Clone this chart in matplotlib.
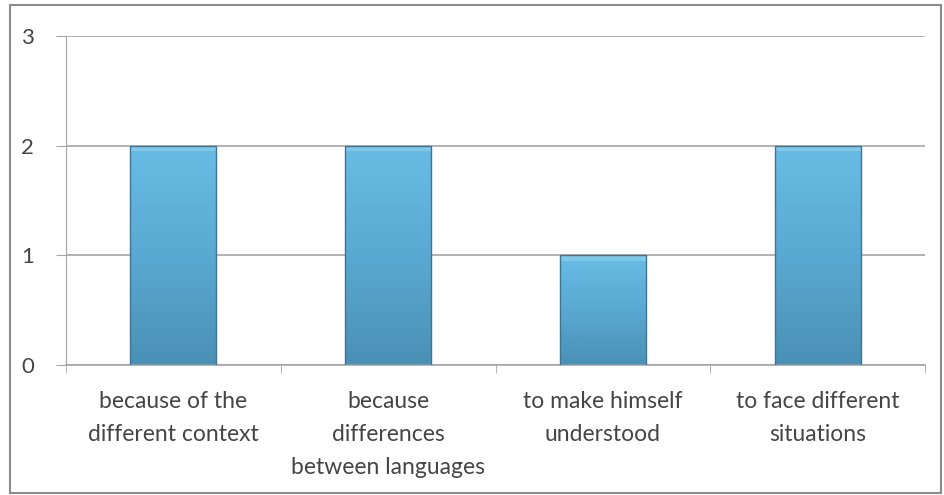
import numpy as np
import matplotlib.pyplot as plt
from matplotlib.colors import LinearSegmentedColormap
from matplotlib.patches import Rectangle

categories = [
    "because of the\ndifferent context",
    "because\ndifferences\nbetween languages",
    "to make himself\nunderstood",
    "to face different\nsituations",
]
values = [2, 2, 1, 2]
y_ticks = [0, 1, 2, 3]

plt.rcParams['font.family'] = ['Lato', 'DejaVu Sans']

fig = plt.figure(figsize=(9.44, 4.95), dpi=100)
ax = fig.add_axes([66 / 944, 1 - 365 / 495, (925 - 66) / 944, (365 - 36) / 495])

x = np.arange(len(categories))
bars = ax.bar(x, values, width=0.40, color='none', edgecolor='#3f7593',
              linewidth=1.0, zorder=3)

# vertical gradient, light at the top and darker at the base
grad = LinearSegmentedColormap.from_list('barblue', ['#4a90b5', '#5aa9d2', '#68bde5'])
g = np.linspace(0, 1, 256).reshape(-1, 1)
for b in bars:
    x0, w, h = b.get_x(), b.get_width(), b.get_height()
    im = ax.imshow(g, cmap=grad, extent=(x0, x0 + w, 0, h), origin='lower',
                   aspect='auto', zorder=2, interpolation='bilinear')
    im.set_clip_path(b)
    # light bevel along the top edge
    ax.add_patch(Rectangle((x0, h - 0.05), w, 0.05, facecolor='#8fd3f0',
                           edgecolor='none', alpha=0.6, zorder=2.5))

ax.set_xlim(-0.5, len(categories) - 0.5)
ax.set_ylim(0, 3)
ax.set_yticks(y_ticks)
ax.set_yticklabels([str(v) for v in y_ticks], fontsize=16, color='#454545')
ax.set_xticks(x)
ax.set_xticklabels(categories, fontsize=16.5, color='#454545', linespacing=1.7)
ax.tick_params(axis='x', length=0, pad=19)
ax.tick_params(axis='y', length=7, color='#a6a6a6', pad=16)

# category boundary ticks below the axis
ax.set_xticks(np.arange(-0.5, len(categories)), minor=True)
ax.tick_params(axis='x', which='minor', length=6, color='#a6a6a6', direction='out')

ax.grid(axis='y', color='#a6a6a6', linewidth=1.2, zorder=0)
ax.set_axisbelow(True)
for side in ['top', 'right']:
    ax.spines[side].set_visible(False)
ax.spines['left'].set_color('#a6a6a6')
ax.spines['bottom'].set_color('#a6a6a6')
ax.spines['bottom'].set_linewidth(1.2)

# outer chart frame
fig.patches.append(Rectangle((10 / 944, 2 / 495), 931 / 944, 488 / 495,
                             transform=fig.transFigure, fill=False,
                             edgecolor='#8c8c8c', linewidth=1.5))

fig.savefig('out.png', dpi=100)
